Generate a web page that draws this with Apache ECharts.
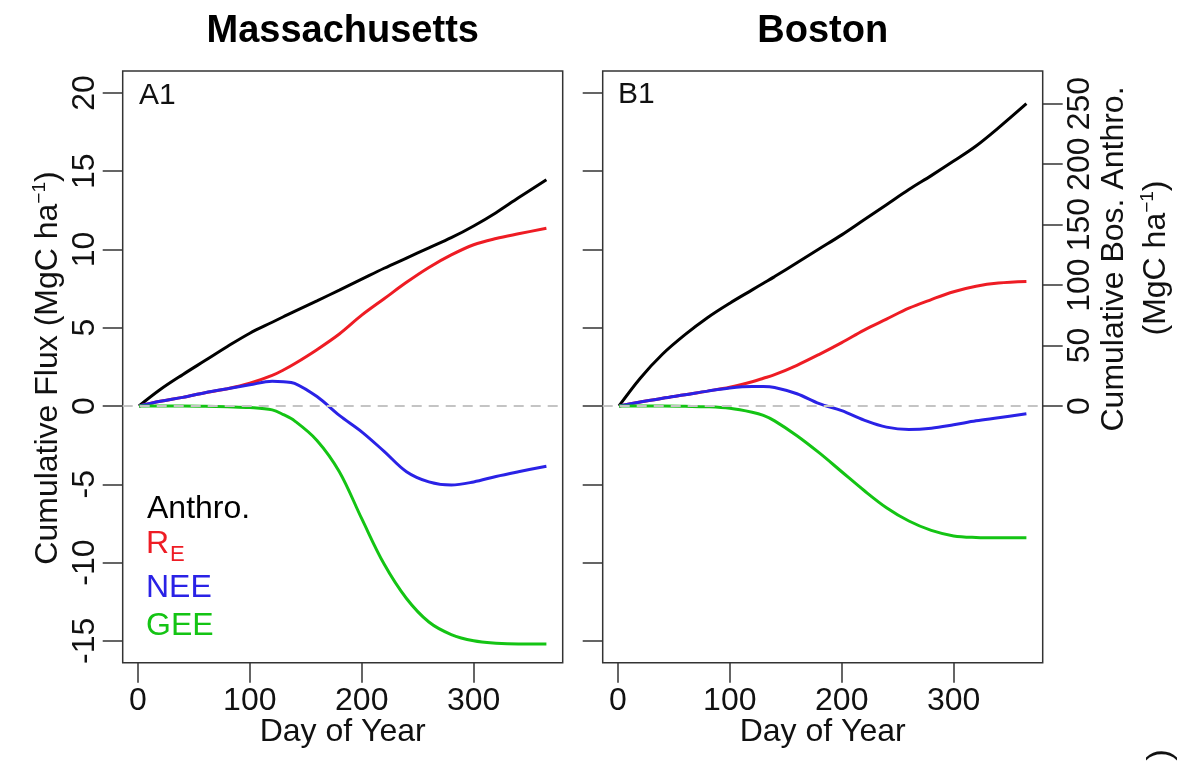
<!DOCTYPE html>
<html>
<head>
<meta charset="utf-8">
<script src="https://cdn.jsdelivr.net/npm/echarts@6/dist/echarts.min.js"></script>
<style>
  html, body { margin: 0; padding: 0; background: #fff; }
  #chart { width: 1191px; height: 765px; }
</style>
</head>
<body>
<div id="chart"></div>
<script>
// ---------------- data ----------------
const days = [1, 20, 40, 60, 80, 100, 120, 130, 140, 160, 180, 200, 220, 240, 260, 280, 300, 320, 340, 365];

// Massachusetts (MgC ha-1)
const maAnthro = [0, 1.05, 2.0, 2.9, 3.8, 4.65, 5.35, 5.7, 6.05, 6.72, 7.4, 8.1, 8.8, 9.45, 10.1, 10.75, 11.5, 12.35, 13.3, 14.45];
const maRE     = [0, 0.3, 0.55, 0.85, 1.1, 1.45, 1.95, 2.3, 2.7, 3.6, 4.6, 5.8, 6.85, 7.9, 8.85, 9.65, 10.3, 10.7, 11.0, 11.35];
const maNEE    = [0, 0.3, 0.55, 0.85, 1.1, 1.35, 1.58, 1.55, 1.45, 0.6, -0.6, -1.65, -2.9, -4.2, -4.85, -5.05, -4.85, -4.5, -4.2, -3.85];
const maGEE    = [0, 0, 0, -0.02, -0.05, -0.1, -0.25, -0.55, -0.95, -2.2, -4.2, -7.2, -10.1, -12.3, -13.8, -14.6, -15.0, -15.15, -15.2, -15.2];

// Boston: anthro on the right axis, others on the left axis (MgC ha-1)
const bosAnthro = [0, 23, 43, 59, 73, 85, 96, 101.5, 107, 118.5, 130, 141.5, 154, 166.5, 179, 190.5, 202.5, 215, 230, 250];
const bosRE     = [0, 0.25, 0.5, 0.72, 0.95, 1.2, 1.55, 1.77, 2.0, 2.6, 3.3, 4.05, 4.85, 5.55, 6.25, 6.8, 7.3, 7.65, 7.85, 7.95];
const bosNEE    = [0, 0.25, 0.5, 0.72, 0.95, 1.15, 1.24, 1.24, 1.18, 0.78, 0.15, -0.3, -0.9, -1.35, -1.5, -1.42, -1.2, -0.95, -0.75, -0.49];
const bosGEE    = [0, 0, 0, -0.02, -0.05, -0.15, -0.4, -0.6, -0.95, -1.9, -3.0, -4.2, -5.4, -6.5, -7.35, -7.95, -8.3, -8.4, -8.42, -8.42];

// tick labels
const xTicks = [0, 100, 200, 300];
const yTicks = [-15, -10, -5, 0, 5, 10, 15, 20];
const rightTicks = [0, 50, 100, 150, 200, 250];

// ---------------- layout / style ----------------
const FONT = "'Liberation Sans', Arial, Helvetica, sans-serif";
const TXT = '#111';
const X_MIN = -13.56, X_MAX = 379.56;
const Y_MIN = -16.4, Y_MAX = 21.4;
const K = 12.945; // right-axis scale factor
const GRID_TOP = 71, GRID_H = 591.7, GRID_W = 440;
const G0_LEFT = 122.7, G1_LEFT = 602.7;
const COLORS = { anthro: '#000000', re: '#ee1c24', nee: '#2a22e6', gee: '#14c414' };

function pairs(vals) { return days.map((d, i) => [d, vals[i]]); }

const tickStyle = { color: '#333', width: 1.5 };

function xAxisCfg(gi) {
  return {
    type: 'value', gridIndex: gi, position: 'bottom', min: X_MIN, max: X_MAX,
    axisLine: { show: false, onZero: false },
    splitLine: { show: false },
    axisTick: { show: true, inside: false, length: 20, customValues: xTicks, lineStyle: tickStyle },
    axisLabel: { show: true, customValues: xTicks, margin: 22, fontSize: 32, fontFamily: FONT, color: TXT }
  };
}

function lineSeries(name, xi, yi, vals, color, extra) {
  return Object.assign({
    name: name, type: 'line', xAxisIndex: xi, yAxisIndex: yi,
    data: pairs(vals), symbol: 'none', showSymbol: false, smooth: 0.35,
    lineStyle: { color: color, width: 3 }, itemStyle: { color: color },
    emphasis: { disabled: true }, silent: true
  }, extra || {});
}

const zeroLine = {
  silent: true, symbol: 'none', label: { show: false },
  lineStyle: { type: [10, 7], color: '#c4c4c4', width: 2 },
  data: [{ yAxis: 0 }]
};

const chart = echarts.init(document.getElementById('chart'), null, { renderer: 'canvas' });

const option = {
  animation: false,
  backgroundColor: '#ffffff',
  grid: [
    { left: G0_LEFT, top: GRID_TOP, width: GRID_W, height: GRID_H, show: true, borderColor: '#333', borderWidth: 1.5, backgroundColor: 'transparent' },
    { left: G1_LEFT, top: GRID_TOP, width: GRID_W, height: GRID_H, show: true, borderColor: '#333', borderWidth: 1.5, backgroundColor: 'transparent' }
  ],
  xAxis: [xAxisCfg(0), xAxisCfg(1)],
  yAxis: [
    {
      type: 'value', gridIndex: 0, position: 'left', min: Y_MIN, max: Y_MAX,
      axisLine: { show: false, onZero: false }, splitLine: { show: false },
      axisTick: { show: true, inside: false, length: 20, customValues: yTicks, lineStyle: tickStyle },
      axisLabel: { show: true, customValues: yTicks, rotate: 90, margin: 22, fontSize: 32, fontFamily: FONT, color: TXT }
    },
    {
      type: 'value', gridIndex: 1, position: 'left', min: Y_MIN, max: Y_MAX,
      axisLine: { show: false, onZero: false }, splitLine: { show: false },
      axisTick: { show: true, inside: false, length: 20, customValues: yTicks, lineStyle: tickStyle },
      axisLabel: { show: false }
    },
    {
      type: 'value', gridIndex: 1, position: 'right', min: Y_MIN * K, max: Y_MAX * K,
      axisLine: { show: false, onZero: false }, splitLine: { show: false },
      axisTick: { show: true, inside: false, length: 20, customValues: rightTicks, lineStyle: tickStyle },
      axisLabel: { show: true, customValues: rightTicks, rotate: 90, margin: 21, fontSize: 32, fontFamily: FONT, color: TXT }
    }
  ],
  series: [
    lineSeries('Anthro.', 0, 0, maAnthro, COLORS.anthro),
    lineSeries('RE', 0, 0, maRE, COLORS.re),
    lineSeries('NEE', 0, 0, maNEE, COLORS.nee),
    lineSeries('GEE', 0, 0, maGEE, COLORS.gee, { markLine: zeroLine }),
    lineSeries('Bos Anthro.', 1, 2, bosAnthro, COLORS.anthro),
    lineSeries('Bos RE', 1, 1, bosRE, COLORS.re),
    lineSeries('Bos NEE', 1, 1, bosNEE, COLORS.nee),
    lineSeries('Bos GEE', 1, 1, bosGEE, COLORS.gee, { markLine: zeroLine })
  ],
  graphic: [
    // panel titles
    { type: 'text', x: G0_LEFT + GRID_W / 2, y: 32, silent: true,
      style: { text: 'Massachusetts', align: 'center', verticalAlign: 'middle', fontSize: 38, fontWeight: 'bold', fontFamily: FONT, fill: '#000' } },
    { type: 'text', x: G1_LEFT + GRID_W / 2, y: 32, silent: true,
      style: { text: 'Boston', align: 'center', verticalAlign: 'middle', fontSize: 38, fontWeight: 'bold', fontFamily: FONT, fill: '#000' } },
    // panel tags
    { type: 'text', x: 139, y: 96, silent: true,
      style: { text: 'A1', align: 'left', verticalAlign: 'middle', fontSize: 30, fontFamily: FONT, fill: TXT } },
    { type: 'text', x: 618, y: 95, silent: true,
      style: { text: 'B1', align: 'left', verticalAlign: 'middle', fontSize: 30, fontFamily: FONT, fill: TXT } },
    // x axis titles
    { type: 'text', x: G0_LEFT + GRID_W / 2, y: 732, silent: true,
      style: { text: 'Day of Year', align: 'center', verticalAlign: 'middle', fontSize: 32, fontFamily: FONT, fill: TXT } },
    { type: 'text', x: G1_LEFT + GRID_W / 2, y: 732, silent: true,
      style: { text: 'Day of Year', align: 'center', verticalAlign: 'middle', fontSize: 32, fontFamily: FONT, fill: TXT } },
    // left y title
    { type: 'text', x: 48, y: 368, rotation: Math.PI / 2, silent: true,
      style: {
        text: '{a|Cumulative Flux (MgC ha}{s|−1}{a|)}', align: 'center', verticalAlign: 'middle',
        fontSize: 32, fontFamily: FONT, fill: TXT,
        rich: {
          a: { fontSize: 32, fontFamily: FONT, fill: TXT, lineHeight: 36 },
          s: { fontSize: 19, fontFamily: FONT, fill: TXT, lineHeight: 19, verticalAlign: 'top' }
        }
      } },
    // right y title (two lines)
    { type: 'text', x: 1114, y: 259, rotation: Math.PI / 2, silent: true,
      style: { text: 'Cumulative Bos. Anthro.', align: 'center', verticalAlign: 'middle', fontSize: 32, fontFamily: FONT, fill: TXT } },
    { type: 'text', x: 1156, y: 258, rotation: Math.PI / 2, silent: true,
      style: {
        text: '{a|(MgC ha}{s|−1}{a|)}', align: 'center', verticalAlign: 'middle',
        fontSize: 32, fontFamily: FONT, fill: TXT,
        rich: {
          a: { fontSize: 32, fontFamily: FONT, fill: TXT, lineHeight: 36 },
          s: { fontSize: 19, fontFamily: FONT, fill: TXT, lineHeight: 19, verticalAlign: 'top' }
        }
      } },
    // legend texts
    { type: 'text', x: 147, y: 509, silent: true,
      style: { text: 'Anthro.', align: 'left', verticalAlign: 'middle', fontSize: 32, fontFamily: FONT, fill: COLORS.anthro } },
    { type: 'text', x: 146, y: 544, silent: true,
      style: { text: 'R', align: 'left', verticalAlign: 'middle', fontSize: 32, fontFamily: FONT, fill: COLORS.re } },
    { type: 'text', x: 170, y: 555, silent: true,
      style: { text: 'E', align: 'left', verticalAlign: 'middle', fontSize: 22, fontFamily: FONT, fill: COLORS.re } },
    { type: 'text', x: 146, y: 588, silent: true,
      style: { text: 'NEE', align: 'left', verticalAlign: 'middle', fontSize: 32, fontFamily: FONT, fill: COLORS.nee } },
    { type: 'text', x: 146, y: 626, silent: true,
      style: { text: 'GEE', align: 'left', verticalAlign: 'middle', fontSize: 32, fontFamily: FONT, fill: COLORS.gee } },
    // clipped glyph at bottom-right edge of the reference
    { type: 'text', x: 1162, y: 755, rotation: -Math.PI / 2, silent: true,
      style: { text: '(', align: 'center', verticalAlign: 'middle', fontSize: 34, fontFamily: FONT, fill: TXT } }
  ]
};

chart.setOption(option);
</script>
</body>
</html>
